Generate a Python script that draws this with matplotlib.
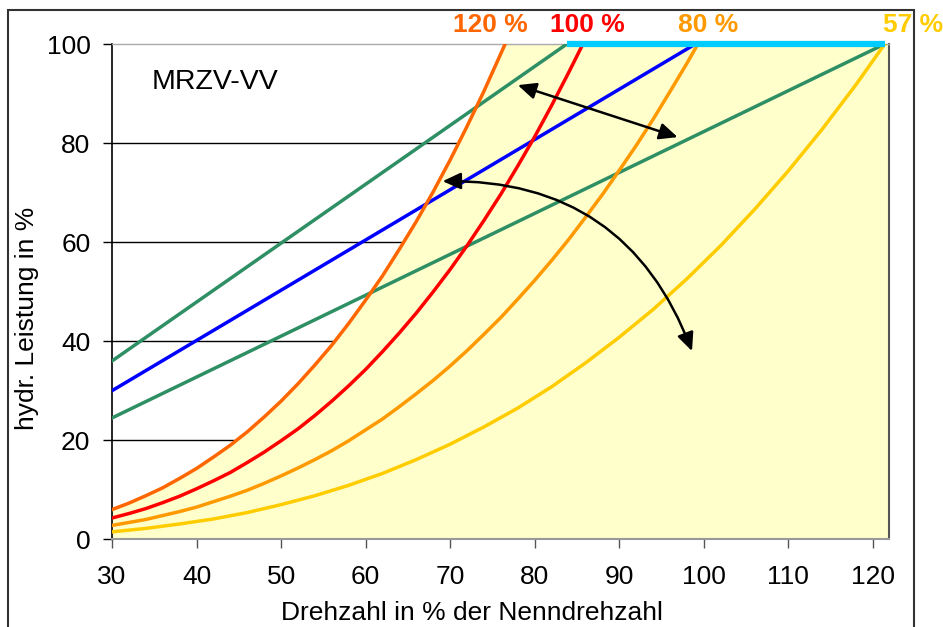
import matplotlib
matplotlib.use("Agg")
import matplotlib.pyplot as plt
from matplotlib.patches import Rectangle, FancyArrowPatch

plt.rcParams['font.family'] = ['Liberation Sans', 'DejaVu Sans']

# Drehzahl-Stuetzstellen und hydr. Leistung der Kennlinien
x_120 = [30, 32, 34, 36, 38, 40, 42, 44, 46, 48, 50, 52, 54, 56, 58, 60, 62, 64,
         66, 68, 70, 72, 74, 76, 76.5]
p_120 = [6.0, 7.3, 8.8, 10.4, 12.3, 14.3, 16.6, 19.0, 21.7, 24.7, 27.9, 31.4, 35.2,
         39.2, 43.6, 48.3, 53.2, 58.6, 64.2, 70.2, 76.6, 83.4, 90.5, 98.1, 100]

x_100 = [30, 32, 34, 36, 38, 40, 42, 44, 46, 48, 50, 52, 54, 56, 58, 60, 62, 64,
         66, 68, 70, 72, 74, 76, 78, 80, 82, 84, 85.7]
p_100 = [4.3, 5.2, 6.2, 7.4, 8.7, 10.2, 11.8, 13.5, 15.5, 17.6, 19.9, 22.3, 25.0,
         27.9, 31.0, 34.3, 37.9, 41.7, 45.7, 50.0, 54.5, 59.3, 64.4, 69.7, 75.4,
         81.3, 87.6, 94.2, 100]

x_80 = [30, 32, 34, 36, 38, 40, 42, 44, 46, 48, 50, 52, 54, 56, 58, 60, 62, 64,
        66, 68, 70, 72, 74, 76, 78, 80, 82, 84, 86, 88, 90, 92, 94, 96, 98, 99.3]
p_80 = [2.8, 3.4, 4.0, 4.8, 5.6, 6.5, 7.6, 8.7, 9.9, 11.3, 12.8, 14.4, 16.1, 17.9,
        19.9, 22.1, 24.3, 26.8, 29.4, 32.1, 35.0, 38.1, 41.4, 44.8, 48.5, 52.3,
        56.3, 60.5, 65.0, 69.6, 74.5, 79.5, 84.8, 90.4, 96.1, 100]

x_57 = [30, 34, 38, 42, 46, 50, 54, 58, 62, 66, 70, 74, 78, 82, 86, 90, 94, 98,
        102, 106, 110, 114, 118, 121.4]
p_57 = [1.5, 2.2, 3.1, 4.1, 5.4, 7.0, 8.8, 10.9, 13.3, 16.1, 19.2, 22.7, 26.5, 30.8,
        35.6, 40.8, 46.4, 52.6, 59.3, 66.6, 74.4, 82.8, 91.8, 100]

# Geraden (Anlagenkennlinien)
x_gruen_oben = [30, 83.8]
p_gruen_oben = [36, 100]
x_blau = [30, 99]
p_blau = [30, 100]
x_gruen_unten = [30, 121.4]
p_gruen_unten = [24.5, 100]
x_cyan = [83.8, 121.4]
p_cyan = [100, 100]

x_max = 121.9
kurven_namen = ['120 %', '100 %', '80 %', '57 %']
kurven_farben = ['#FF6600', '#FF0000', '#FF9900', '#FFCC00']
label_x = [74.7, 86.2, 100.5, 124.7]

fig = plt.figure(figsize=(9.43, 6.27), dpi=100)
ax = fig.add_axes([112 / 943, 87.7 / 627, (889 - 112) / 943, (539.3 - 44) / 627])

# gelber Bereich rechts der 120 %-Kurve
ax.fill_between(x_120 + [x_max], 0, p_120 + [100], color='#FFFFCC', zorder=1, lw=0)

# Gitterlinien (werden vom gelben Bereich verdeckt)
for y in [20, 40, 60, 80]:
    ax.axhline(y, color='black', lw=1.0, zorder=0.5)

ax.plot(x_gruen_oben, p_gruen_oben, color='#2F8F64', lw=2.5, zorder=3)
ax.plot(x_blau, p_blau, color='#0000FF', lw=2.5, zorder=3)
ax.plot(x_gruen_unten, p_gruen_unten, color='#2F8F64', lw=2.5, zorder=3)

ax.plot(x_120, p_120, color=kurven_farben[0], lw=2.5, zorder=4)
ax.plot(x_100, p_100, color=kurven_farben[1], lw=2.5, zorder=4)
ax.plot(x_80, p_80, color=kurven_farben[2], lw=2.5, zorder=4)
ax.plot(x_57, p_57, color=kurven_farben[3], lw=2.5, zorder=4)

ax.plot(x_cyan, p_cyan, color='#00CCFF', lw=4.5, zorder=5, clip_on=False, solid_capstyle='butt')

# Pfeile
ax.annotate('', xy=(78.0, 91.7), xytext=(96.9, 81.2),
            arrowprops=dict(arrowstyle='<|-|>,head_length=0.55,head_width=0.25',
                            color='black', lw=1.8, shrinkA=0, shrinkB=0,
                            mutation_scale=20), zorder=6)
bogen = FancyArrowPatch((69.1, 72.3), (98.6, 38.0),
                        connectionstyle='arc3,rad=-0.35',
                        arrowstyle='<|-|>,head_length=0.55,head_width=0.25',
                        color='black', lw=1.8, shrinkA=0, shrinkB=0,
                        mutation_scale=20, zorder=6)
ax.add_patch(bogen)

ax.text(34.7, 92.3, 'MRZV-VV', fontsize=20.5, va='center', ha='left')
for name, farbe, lx in zip(kurven_namen, kurven_farben, label_x):
    ax.text(lx, 103.8, name, color=farbe, fontsize=19, fontweight='bold',
            ha='center', va='center', clip_on=False)

ax.set_xlim(30, x_max)
ax.set_ylim(0, 100)
ax.set_xticks(range(30, 121, 10))
ax.set_yticks(range(0, 101, 20))
ax.tick_params(axis='y', direction='out', length=6.5, width=1.0, labelsize=19, pad=9)
ax.tick_params(axis='x', direction='out', length=6.5, width=1.0, color='#555555',
               labelsize=19, pad=12)

ax.spines['left'].set_color('black')
ax.spines['left'].set_linewidth(1.2)
ax.spines['bottom'].set_color('#999999')
ax.spines['bottom'].set_linewidth(1.5)
ax.spines['top'].set_color('#AAAAAA')
ax.spines['top'].set_linewidth(1.0)
ax.spines['right'].set_color('#555555')
ax.spines['right'].set_linewidth(1.5)

fig.text(27 / 943, 1 - 318 / 627, 'hydr. Leistung in %', rotation=90,
         fontsize=19, ha='center', va='center')
fig.text(472 / 943, 1 - 613 / 627, 'Drehzahl in % der Nenndrehzahl',
         fontsize=19, ha='center', va='center')

# Rahmen um die Grafik
rahmen = Rectangle((8 / 943, -0.05), (914 - 8) / 943, 1.05 - 10 / 627,
                   transform=fig.transFigure, fill=False, edgecolor='#333333',
                   lw=1.5, zorder=10)
fig.add_artist(rahmen)

fig.savefig('out.png', dpi=100)
